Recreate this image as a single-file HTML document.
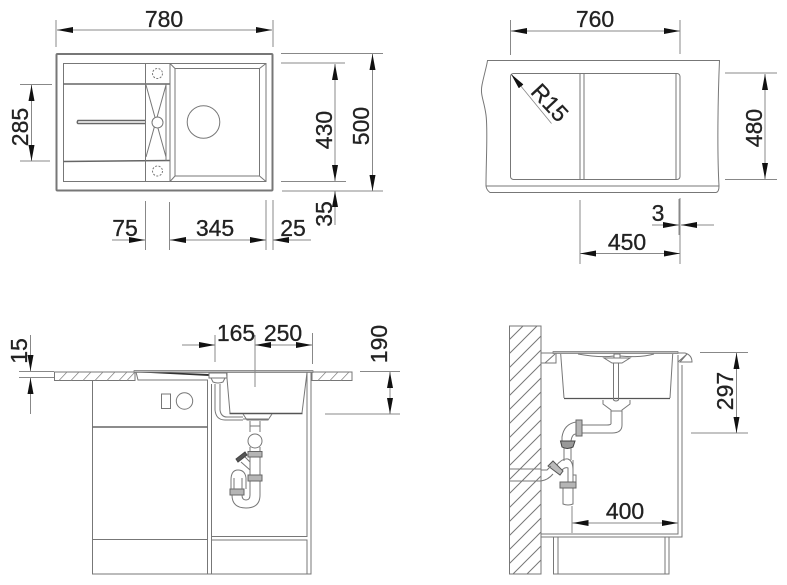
<!DOCTYPE html>
<html><head><meta charset="utf-8"><style>
html,body{margin:0;padding:0;background:#fff;width:787px;height:585px;overflow:hidden}
svg{display:block}
text{font-family:"Liberation Sans",sans-serif;font-size:23px;fill:#222;stroke:#222;stroke-width:.3;text-anchor:middle}
.l{fill:none;stroke:#777;stroke-width:1}
.d{fill:none;stroke:#888;stroke-width:1}
.h{fill:none;stroke:#666;stroke-width:1.5}
.t{fill:none;stroke:#888;stroke-width:.8}
.n{fill:#b5b5b5;stroke:#666;stroke-width:1}
</style></head><body>
<svg width="787" height="585" viewBox="0 0 787 585" xmlns="http://www.w3.org/2000/svg">
<defs>
<marker id="a" markerUnits="userSpaceOnUse" markerWidth="17" markerHeight="7" refX="16" refY="3" orient="auto-start-reverse"><path d="M0 0L16 3L0 6z" fill="#111"/></marker>
<pattern id="wh" patternUnits="userSpaceOnUse" width="14" height="14" patternTransform="translate(509 326)"><path d="M-4 18L18 -4M-4 4L4 -4M10 18L18 10" stroke="#777" stroke-width="1" fill="none"/></pattern>
</defs>

<!-- TOP LEFT -->
<rect x="56.5" y="54" width="216" height="136.5" rx="1" fill="none" stroke="#777" stroke-width="2"/>
<rect x="63.5" y="63.5" width="202.5" height="118" class="l"/>
<path class="h" d="M63.5 84H170M63.5 161.500L170 160.500"/>
<path class="l" d="M145.500 63.500V181.500M170 63.500V84M170 161V181.500M166 84V161M170 84V161"/>
<path class="l" d="M175 68.500H259.500V176H175V68.500ZM170 63.500L175 68.500M266 63.500L259.500 68.500M259.500 176L266 181.500M175 176L170 181.500"/>
<circle cx="203.500" cy="122" r="16.300" class="l"/>
<path class="h" d="M145 120.500H78Q76.500 122.500 78 123.500H145" stroke-width="1.200"/>
<path class="l" d="M146 85L166 157M166 85L146 157"/>
<circle cx="157.500" cy="122.500" r="5.500" fill="#fff" stroke="#777"/>
<circle cx="157.500" cy="73.500" r="5" fill="none" stroke="#777" stroke-dasharray="2 1.500"/>
<circle cx="157.500" cy="171" r="5" fill="none" stroke="#777" stroke-dasharray="2 1.500"/>

<path class="d" d="M56 20V47M273 20V47M20 84.500H52M20 161H50M281 53.500H383M281 63H345M281 181.500H346M282 191H383M145.500 201V250M169.500 202V250M266 200V250M273 200V250"/>
<path class="d" d="M57 30H272" marker-start="url(#a)" marker-end="url(#a)"/>
<path class="d" d="M31.500 85V161" marker-start="url(#a)" marker-end="url(#a)"/>
<path class="d" d="M372.500 54V191" marker-start="url(#a)" marker-end="url(#a)"/>
<path class="d" d="M335 64V181" marker-start="url(#a)" marker-end="url(#a)"/>
<path class="d" d="M335 225V191" marker-end="url(#a)"/>
<path class="d" d="M112 240H145" marker-end="url(#a)"/>
<path class="d" d="M170 240H266" marker-start="url(#a)" marker-end="url(#a)"/>
<path class="d" d="M311 240H273" marker-end="url(#a)"/>
<text x="164" y="27">780</text>
<text transform="translate(28 127) rotate(-90)">285</text>
<text transform="translate(369 126) rotate(-90)">500</text>
<text transform="translate(332 130) rotate(-90)">430</text>
<text transform="translate(332 214) rotate(-90)">35</text>
<text x="125" y="236">75</text>
<text x="215" y="236">345</text>
<text x="293" y="236">25</text>

<!-- TOP RIGHT -->
<path class="l" d="M487.500 60.500H719.500C718 95 717 150 719 186Q719 192 716 192.500H490Q486.500 190 486 186C486 160 488 130 486 115C484 100 480 95 482 85C484 75 487 65 487.500 60.500ZM486 186H719"/>
<rect x="510.500" y="73.500" width="169.500" height="106" rx="3" class="l"/>
<path class="l" d="M580 73.500V179.500M584 73.500V179.500M676 74V179"/>
<path class="t" d="M551.500 123.500L511 74" marker-end="url(#a)"/>
<path class="d" d="M510.500 20V55M680 20V54M725 73H777M725 179.500H777M580 200V264M680 198V264M679 199V235"/>
<path class="d" d="M511 31H680" marker-start="url(#a)" marker-end="url(#a)"/>
<path class="d" d="M765 74V179" marker-start="url(#a)" marker-end="url(#a)"/>
<path class="d" d="M652 225H679" marker-end="url(#a)"/>
<path class="d" d="M714 225H681" marker-end="url(#a)"/>
<path class="d" d="M580 253.500H680" marker-start="url(#a)" marker-end="url(#a)"/>
<text x="595" y="27">760</text>
<text transform="translate(762 128) rotate(-90)">480</text>
<text transform="translate(544 108) rotate(47)">R15</text>
<text x="658" y="221">3</text>
<text x="627" y="250">450</text>

<!-- BOTTOM LEFT -->
<path class="l" d="M54.500 372H135V380.500H54.500ZM312 372H352V380.500H312Z"/>
<path class="t" d="M59 380.500L67 372M71 380.500L79 372M83 380.500L91 372M95 380.500L103 372M107 380.500L115 372M119 380.500L127 372M127 380.500L135 372M318 380.500L326 372M330 380.500L338 372M341 380.500L349 372"/>
<path d="M134 370.500H313V372.500H134Z" fill="#bbb" stroke="#777" stroke-width=".7"/>
<path d="M141 372.500L209 376L209 374L170 372.500Z" fill="#333"/>
<path class="l" d="M136 372L138 380H208M226.500 372.500L230 413M307 372.500L302 413"/>
<path d="M229.500 413.500H302.500" stroke="#555" stroke-width="1.500"/>
<path class="l" d="M209 373H227V378H209ZM211 378L213 382Q218 384 223 382L225 378"/>
<path class="l" d="M92.500 380.500V574H311V372M207.500 380.500V574M211.500 384V574M307 372V536.500H211.500M211.500 540H307V574M92.500 539.500H207.500"/>
<path d="M92.500 427H207.500" stroke="#666" stroke-width="1.600"/>
<rect x="161.500" y="394" width="9" height="14.500" class="l"/>
<circle cx="184.500" cy="401" r="8.200" class="l"/>
<path class="l" d="M215 384V410Q216 420 225 420H243M220 384V410Q221 417 227 417H243"/>
<path class="l" d="M243 414L247 420H268L272 414M243 419H268M250 421V432M260 421V432M250 426H260"/>
<circle cx="255" cy="441" r="7" class="l"/>
<path class="l" d="M250 447V451M260 447V451M250 457V475M260 457V475M250 481V495M260 481V495Q260 508 246 508Q232 508 232 495M250 495Q250 500 246 500Q242 500 242 495"/>
<rect x="248" y="451.500" width="14" height="5.500" class="n"/>
<rect x="248" y="475" width="14" height="6" class="n"/>
<rect x="230" y="489" width="14" height="6" class="n"/>
<path class="l" d="M241 462L250 470M245 457L250 462M231 489V480Q231 470 238 470Q245 470 246 478V489M234 489V478M242 489V478"/>
<path d="M236 459L245 452L247 455L238 462Z" fill="#555" stroke="#444"/>
<path class="d" d="M19 371.500H54M19 377.500H54M215 335V362M255 335V387M312.500 333V364M360 371.500H400M325 414H400"/>
<path class="d" d="M30.500 335V371" marker-end="url(#a)"/>
<path class="d" d="M30.500 414V378" marker-end="url(#a)"/>
<path class="d" d="M182 345H215" marker-end="url(#a)"/>
<path class="d" d="M255 345H312" marker-start="url(#a)" marker-end="url(#a)"/>
<path class="d" d="M390 372V414" marker-start="url(#a)" marker-end="url(#a)"/>
<text transform="translate(27 351) rotate(-90)">15</text>
<text x="236" y="341">165</text>
<text x="283" y="341">250</text>
<text transform="translate(387 344) rotate(-90)">190</text>

<!-- BOTTOM RIGHT -->
<rect x="509.500" y="326" width="31.500" height="248" fill="url(#wh)" stroke="#777"/>
<path class="l" d="M541 353H556V363H541M545 363L555 354"/>
<path class="l" d="M678 353H685Q692 355 692 362H680L687 354M678 362L687 354"/>
<path d="M553 351.500H678V353.500H553Z" fill="#bbb" stroke="#777" stroke-width=".7"/>
<path class="l" d="M560.700 354L564 398M672.700 354L670 398M578 354Q600 358 614 356M620 356Q640 358 654 354M604 358H630L622 363H612ZM614 354H620V358H614Z"/>
<path d="M564 398.500H670" stroke="#555" stroke-width="1.300"/>
<path class="l" d="M613.500 363V400Q616 402 618.500 400V363M603 400V404L611 410V424M630 400V404L622 410V425Q622 433 612 433H582M611 424Q610 425 607 425H582M611 411H622"/>
<path class="l" d="M678 355V534H541M682 365V537H541M553.500 537V574H669V537M558 537V574M665 537V574"/>
<rect x="576" y="420" width="6" height="16" class="n"/>
<path class="l" d="M576 422Q564 424 562 437V441M576 434Q572 434 571 441"/>
<path d="M560.500 441H575L573 447Q567 450 562 447Z" fill="#999" stroke="#444"/>
<path class="l" d="M564 448V461M571 448V460M573 460V504Q568 506 563 504V488M573 475H576V482H573M556 466Q562 458 568 459Q573 461 573 470M559 474Q564 466 568 468V482"/>
<rect x="560" y="482" width="16" height="6" class="n"/>
<path d="M548 466L553 461L563 471L560 475Z" fill="#bbb" stroke="#555"/>
<path class="l" d="M509.500 469H541M509.500 481H541M541 470H547L551 466M541 481Q548 480 553 474"/>
<path class="d" d="M700 352.500H748M691 433H748M572 506V533"/>
<path class="d" d="M736.500 353V433" marker-start="url(#a)" marker-end="url(#a)"/>
<path class="d" d="M572.500 523H678" marker-start="url(#a)" marker-end="url(#a)"/>
<text transform="translate(733 391) rotate(-90)">297</text>
<text x="625" y="519">400</text>
</svg>
</body></html>
